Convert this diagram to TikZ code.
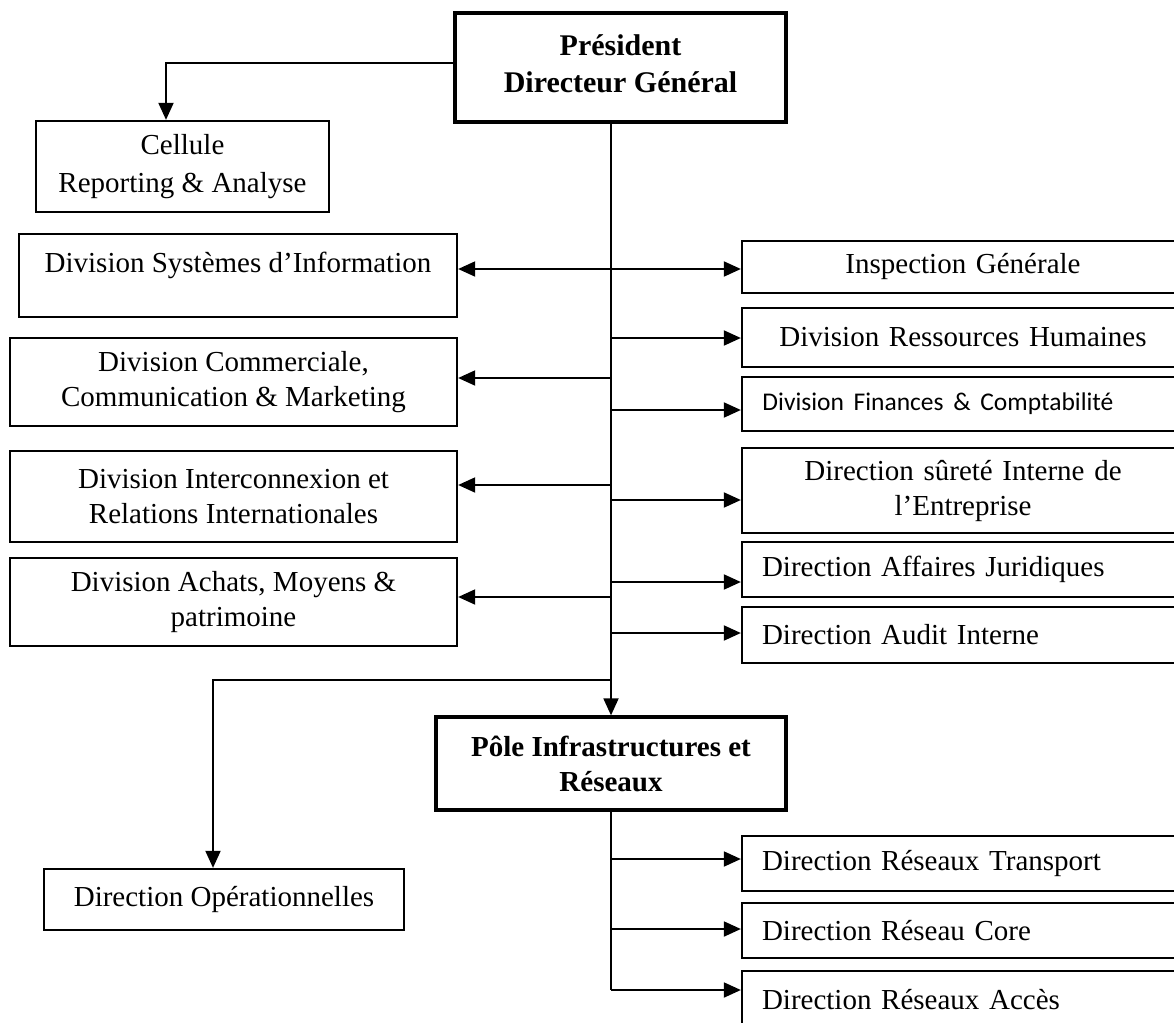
\documentclass[tikz,border=0pt]{standalone}
\usepackage{fontspec}
\setmainfont{Liberation Serif}
\newfontfamily\calibfont{Carlito}
\usetikzlibrary{arrows.meta}
\tikzset{
  box/.style={draw, line width=2.3pt, rectangle, inner sep=0pt, align=center,
              font=\fontsize{29}{35}\selectfont},
  headbox/.style={box, line width=3.3pt, font=\fontsize{30}{37}\selectfont\bfseries},
  rbox/.style={box, minimum width=442pt, text width=402pt, inner xsep=20pt},
  lbox/.style={rbox, align=left},
  wire/.style={line width=1.9pt},
  conn/.style={wire, -{Triangle[length=17pt,width=15pt]}},
  conn2/.style={wire, {Triangle[length=17pt,width=15pt]}-{Triangle[length=17pt,width=15pt]}},
}
\begin{document}
\begin{tikzpicture}[x=1pt,y=-1pt]
\useasboundingbox (0,0) rectangle (1174,1022);
\clip (0,0) rectangle (1174,1022);

% top of the hierarchy
\node[headbox, minimum width=331pt, minimum height=109pt] (pdg) at (620.5,67.5)
  {Président\\Directeur Général\rule[-7pt]{0pt}{0pt}};
\node[box, minimum width=293pt, minimum height=91pt] (cell) at (182.5,166.5)
  {\rule{0pt}{12pt}Cellule\\[3pt]Reporting \& Analyse};

% divisions on the left
\node[box, minimum width=438pt, minimum height=83pt] (dsi) at (238,275.5)
  {Division Systèmes d’Information\\[-8pt]~};
\node[box, minimum width=447pt, minimum height=88pt] (dccm) at (233.5,382)
  {\rule{0pt}{10pt}Division Commerciale,\\Communication \& Marketing};
\node[box, minimum width=447pt, minimum height=91pt] (diri) at (233.5,496.5)
  {Division Interconnexion et\\Relations Internationales};
\node[box, minimum width=447pt, minimum height=88pt] (damp) at (233.5,602)
  {Division Achats, Moyens \&\\patrimoine};

% entities on the right
\node[rbox, minimum height=52pt] (insp) at (963,267) {Inspection Générale};
\node[rbox, minimum height=59pt] (drh) at (963,337.5) {Division Ressources Humaines};
\node[rbox, minimum height=54pt] (dfc) at (963,404)
  {\makebox[0pt][c]{\calibfont\fontsize{25.5}{31}\selectfont Division Finances \& Comptabilité\hspace*{50pt}}};
\node[rbox, minimum height=85pt] (dsie) at (963,490.5)
  {Direction sûreté Interne de\\l’Entreprise};
\node[lbox, minimum height=55pt] (daj) at (963,569.5) {Direction Affaires Juridiques};
\node[lbox, minimum height=56pt] (dai) at (963,635) {Direction Audit Interne};

% infrastructure pole and operations
\node[headbox, font=\fontsize{29}{35}\selectfont\bfseries, minimum width=350pt, minimum height=93pt]
  (pole) at (611,763.5) {Pôle Infrastructures et\\Réseaux};
\node[box, minimum width=360pt, minimum height=61pt] (dop) at (224,899.5)
  {Direction Opérationnelles};
\node[lbox, minimum height=55pt] (drt) at (963,863.5) {Direction Réseaux Transport};
\node[lbox, minimum height=55pt] (drc) at (963,930.5) {Direction Réseau Core};
\node[lbox, minimum height=69pt] (dra) at (963,1005.5) {Direction Réseaux Accès\rule[-12pt]{0pt}{0pt}};

% main spine
\coordinate (sp) at (pole.north |- pdg.south);
\draw[conn] (sp) -- (pole.north);

% reporting cell
\draw[conn] (pdg.west |- 0,63) -| ([xshift=-16.5pt]cell.north);

% branches to the left and right
\draw[conn2] (dsi.east |- 0,269) -- (insp.west |- 0,269);
\draw[conn] (sp |- 0,378) -- (dccm.east |- 0,378);
\draw[conn] (sp |- 0,485) -- (diri.east |- 0,485);
\draw[conn] (sp |- 0,597) -- (damp.east |- 0,597);
\draw[conn] (sp |- 0,338) -- (drh.west |- 0,338);
\draw[conn] (sp |- 0,410) -- (dfc.west |- 0,410);
\draw[conn] (sp |- 0,500) -- (dsie.west |- 0,500);
\draw[conn] (sp |- 0,582) -- (daj.west |- 0,582);
\draw[conn] (sp |- 0,633) -- (dai.west |- 0,633);

% operational directorates
\draw[conn] (sp |- 0,680) -| ([xshift=-11pt]dop.north);

% pole sub-directorates
\draw[wire] (pole.south) -- (pole.south |- 0,990);
\draw[conn] (pole.south |- 0,859) -- (drt.west |- 0,859);
\draw[conn] (pole.south |- 0,929) -- (drc.west |- 0,929);
\draw[conn] (pole.south |- 0,990) -- (dra.west |- 0,990);
\end{tikzpicture}
\end{document}
